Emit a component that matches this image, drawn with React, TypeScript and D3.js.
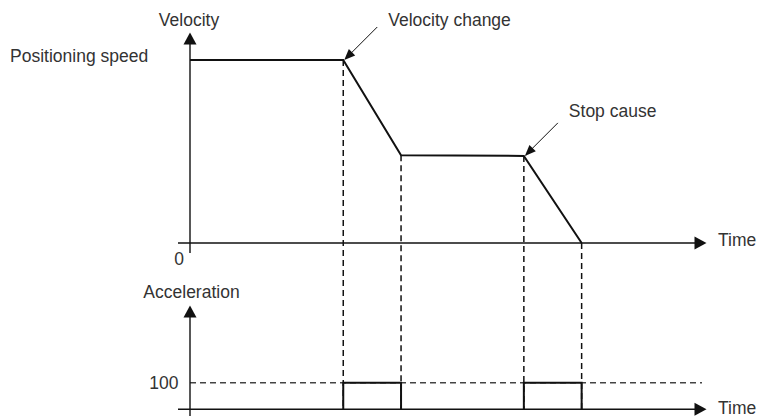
import React from 'react';
import * as d3 from 'd3';

// event times (arbitrary units) and the velocity reached at each
const timePoints = [0, 2.97, 4.09, 6.47, 7.59];
const velocityValues = [100, 100, 48, 47.6, 0];
// acceleration pulses: [start, end] pairs, at level 100
const accelPulses: [number, number][] = [[2.97, 4.09], [6.47, 7.59]];
const accelLevel = 100;
const annotations = [
  { label: 'Velocity change', at: 1 },
  { label: 'Stop cause', at: 3 },
];

const W = 759;
const H = 416;
const font = '"Liberation Sans", Arial, sans-serif';
const textColor = '#333';
const ink = '#111';

const x = d3.scaleLinear().domain([0, 10]).range([190, 706]);
const yV = d3.scaleLinear().domain([0, 100]).range([243, 60]);
const yA = d3.scaleLinear().domain([0, 100]).range([409.3, 382.7]);

function head(tx: number, ty: number, fx: number, fy: number, len: number, hw: number) {
  const a = Math.atan2(ty - fy, tx - fx);
  const bx = tx - len * Math.cos(a);
  const by = ty - len * Math.sin(a);
  const px = -Math.sin(a) * hw;
  const py = Math.cos(a) * hw;
  return `${tx},${ty} ${bx + px},${by + py} ${bx - px},${by - py}`;
}

export default function App() {
  const line = d3.line<number>()
    .x((_, i) => x(timePoints[i]))
    .y(d => yV(d));

  const x0 = x(0);
  const xEnd = x(10);

  return (
    <div style={{ position: 'absolute', left: 0, top: 0 }}>
      <svg width={W} height={H} style={{ display: 'block' }} fontFamily={font} fontSize={17.5}>
        <rect width={W} height={H} fill="#fff" />

        {/* dashed guides */}
        {timePoints.slice(1).map((t, i) => (
          <line key={'g' + i} x1={x(t)} x2={x(t)} y1={yV(velocityValues[i + 1])} y2={yA(0)}
            stroke={ink} strokeWidth={1.5} strokeDasharray="6,4" />
        ))}
        <line x1={x0} x2={702} y1={yA(accelLevel)} y2={yA(accelLevel)}
          stroke="#444" strokeWidth={1.5} strokeDasharray="6,4" />

        {/* velocity axes */}
        <line x1={x0} x2={x0} y1={40} y2={253} stroke={ink} strokeWidth={1.4} />
        <polygon points={head(x0, 32.5, x0, 60, 12, 6.5)} fill={ink} />
        <line x1={178} x2={xEnd - 8} y1={yV(0)} y2={yV(0)} stroke={ink} strokeWidth={1.4} />
        <polygon points={head(xEnd + 0.5, yV(0), x0, yV(0), 12, 6.5)} fill={ink} />

        {/* velocity profile */}
        <path d={line(velocityValues) ?? ''} fill="none" stroke={ink} strokeWidth={2} strokeLinejoin="miter" />
        <line x1={x0 + 3} x2={x(timePoints[1])} y1={yV(velocityValues[0])} y2={yV(velocityValues[0])} stroke={ink} strokeWidth={2} />

        {/* acceleration axes */}
        <line x1={x0} x2={x0} y1={313} y2={H} stroke={ink} strokeWidth={1.4} />
        <polygon points={head(x0, 305.5, x0, 340, 12, 6.5)} fill={ink} />
        <line x1={178} x2={xEnd - 8} y1={yA(0)} y2={yA(0)} stroke={ink} strokeWidth={1.4} />
        <polygon points={head(xEnd + 0.5, yA(0), x0, yA(0), 12, 6.5)} fill={ink} />

        {/* acceleration pulses */}
        {accelPulses.map(([s, e], i) => (
          <polyline key={'p' + i}
            points={`${x(s)},${yA(0)} ${x(s)},${yA(accelLevel)} ${x(e)},${yA(accelLevel)} ${x(e)},${yA(0)}`}
            fill="none" stroke={ink} strokeWidth={2} />
        ))}

        {/* annotations */}
        {annotations.map((a, i) => {
          const tx = x(timePoints[a.at]) + 1;
          const ty = yV(velocityValues[a.at]);
          const fx = tx + 33;
          const fy = ty - 33;
          return (
            <g key={'a' + i}>
              <line x1={fx} y1={fy} x2={tx + 6} y2={ty - 6} stroke={ink} strokeWidth={1} />
              <polygon points={head(tx, ty, fx, fy, 11, 4.5)} fill={ink} />
              <text x={fx + 11} y={a.at === 1 ? 25.5 : 116.5} fill={textColor}>{a.label}</text>
            </g>
          );
        })}

        {/* labels */}
        <text x={189} y={25.5} textAnchor="middle" fill={textColor}>Velocity</text>
        <text x={10} y={62} fill={textColor}>Positioning speed</text>
        <text x={184} y={265} textAnchor="end" fill={textColor}>0</text>
        <text x={718} y={246} fill={textColor}>Time</text>
        <text x={191.5} y={298} textAnchor="middle" fill={textColor}>Acceleration</text>
        <text x={178.5} y={389} textAnchor="end" fill={textColor}>{accelLevel}</text>
        <text x={718} y={413.5} fill={textColor}>Time</text>
      </svg>
    </div>
  );
}
